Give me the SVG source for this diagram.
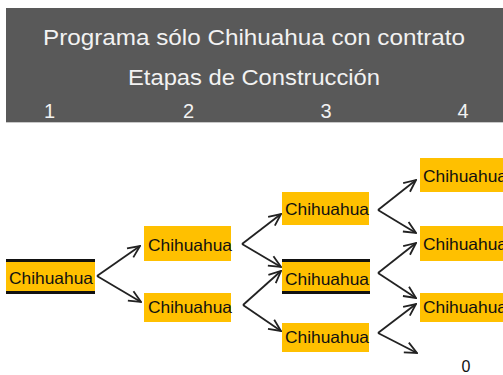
<svg xmlns="http://www.w3.org/2000/svg" width="503" height="375" viewBox="0 0 503 375">
<style>
.hdr{font-family:"Liberation Sans",Arial,sans-serif;fill:#f2f2f2;text-anchor:middle}
.box{fill:#ffc000}
.bar{fill:#111}
.lbl{font-family:"Liberation Sans",Arial,sans-serif;font-size:16.5px;fill:#111}
.con{stroke:#222;stroke-width:1.8;fill:none;marker-end:url(#arr)}
</style>
<defs>
<marker id="arr" viewBox="0 0 14 14" refX="13" refY="7" markerWidth="14" markerHeight="14" markerUnits="userSpaceOnUse" orient="auto">
<path d="M1,1.5 L13,7 L1,12.5" fill="none" stroke="#222" stroke-width="1.8"/>
</marker>
</defs>
<rect width="503" height="375" fill="#ffffff"/>
<g id="header">
<rect x="6" y="8" width="497" height="114" fill="#595959"/>
<line x1="6" y1="122.5" x2="503" y2="122.5" stroke="#c8c8c8" stroke-width="1"/>
<text class="hdr" x="254" y="45" font-size="22" textLength="422" lengthAdjust="spacingAndGlyphs">Programa sólo Chihuahua con contrato</text>
<text class="hdr" x="254" y="85" font-size="22" textLength="252" lengthAdjust="spacingAndGlyphs">Etapas de Construcción</text>
<text class="hdr" x="49.5" y="118" font-size="20">1</text>
<text class="hdr" x="188.5" y="118" font-size="20">2</text>
<text class="hdr" x="326" y="118" font-size="20">3</text>
<text class="hdr" x="463" y="118" font-size="20">4</text>
</g>
<g id="connectors">
<line class="con" x1="97" y1="276" x2="140" y2="246"/>
<line class="con" x1="97" y1="276" x2="141" y2="302"/>
<line class="con" x1="242" y1="244" x2="281" y2="214"/>
<line class="con" x1="242" y1="244" x2="281" y2="267"/>
<line class="con" x1="243" y1="305" x2="281" y2="271"/>
<line class="con" x1="243" y1="305" x2="281" y2="331"/>
<line class="con" x1="378" y1="210" x2="416" y2="180"/>
<line class="con" x1="378" y1="210" x2="416" y2="233"/>
<line class="con" x1="378" y1="273" x2="416" y2="243"/>
<line class="con" x1="378" y1="273" x2="416" y2="298"/>
<line class="con" x1="378" y1="333" x2="416" y2="304"/>
<line class="con" x1="378" y1="333" x2="417" y2="353"/>
</g>
<g id="n1">
<rect class="box" x="6" y="261" width="89" height="31"/>
<rect class="bar" x="6" y="259" width="89" height="3"/>
<rect class="bar" x="6" y="291" width="89" height="3"/>
<text class="lbl" x="9" y="284" textLength="84" lengthAdjust="spacingAndGlyphs">Chihuahua</text>
</g>
<g id="n2a">
<rect class="box" x="144" y="226" width="87" height="35"/>
<text class="lbl" x="148" y="251" textLength="84" lengthAdjust="spacingAndGlyphs">Chihuahua</text>
</g>
<g id="n2b">
<rect class="box" x="144" y="293" width="87" height="29"/>
<text class="lbl" x="148" y="313" textLength="84" lengthAdjust="spacingAndGlyphs">Chihuahua</text>
</g>
<g id="n3a">
<rect class="box" x="282" y="192" width="87" height="33"/>
<text class="lbl" x="285" y="215" textLength="84" lengthAdjust="spacingAndGlyphs">Chihuahua</text>
</g>
<g id="n3b">
<rect class="box" x="282" y="261" width="88" height="31"/>
<rect class="bar" x="282" y="259" width="88" height="3"/>
<rect class="bar" x="282" y="291" width="88" height="3"/>
<text class="lbl" x="285" y="285" textLength="84" lengthAdjust="spacingAndGlyphs">Chihuahua</text>
</g>
<g id="n3c">
<rect class="box" x="282" y="323" width="87" height="29"/>
<text class="lbl" x="285" y="343" textLength="84" lengthAdjust="spacingAndGlyphs">Chihuahua</text>
</g>
<g id="n4a">
<rect class="box" x="420" y="158" width="83" height="34"/>
<text class="lbl" x="423" y="182" textLength="84" lengthAdjust="spacingAndGlyphs">Chihuahua</text>
</g>
<g id="n4b">
<rect class="box" x="420" y="226" width="83" height="35"/>
<text class="lbl" x="423" y="250" textLength="84" lengthAdjust="spacingAndGlyphs">Chihuahua</text>
</g>
<g id="n4c">
<rect class="box" x="420" y="293" width="83" height="29"/>
<text class="lbl" x="423" y="313" textLength="84" lengthAdjust="spacingAndGlyphs">Chihuahua</text>
</g>
<g id="n4d">
<text x="466" y="372" font-family="Liberation Sans, Arial, sans-serif" font-size="16" fill="#111" text-anchor="middle">0</text>
</g>
</svg>
